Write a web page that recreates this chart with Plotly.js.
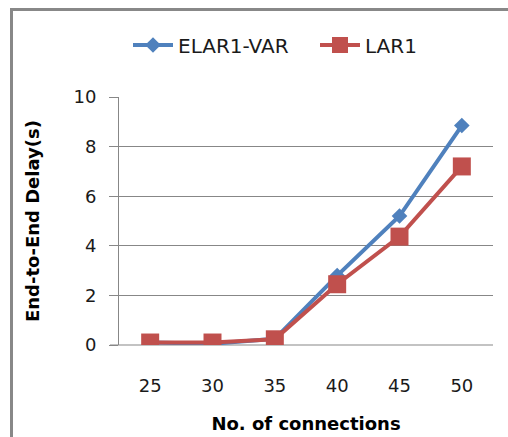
<!DOCTYPE html>
<html>
<head>
<meta charset="utf-8">
<script src="https://cdn.plot.ly/plotly-3.0.1.min.js"></script>
<style>
html,body{margin:0;padding:0;background:#fff;}
#chart{width:508px;height:437px;}
</style>
</head>
<body>
<div id="chart"></div>
<script>
const categories = ['25', '30', '35', '40', '45', '50'];
const elar1Var = [0.1, 0.05, 0.25, 2.8, 5.2, 8.85];
const lar1 = [0.1, 0.1, 0.23, 2.45, 4.37, 7.2];
const yTicks = [0, 2, 4, 6, 8, 10];

const W = 508, H = 437;
const L = 119, R = 15, T = 97, B = 92;
const pw = W - L - R, ph = H - T - B;
const px = v => (v - L) / pw;
const py = v => (H - B - v) / ph;

const traces = [
  {
    x: categories, y: elar1Var, name: 'ELAR1-VAR', type: 'scatter', mode: 'lines+markers',
    line: {color: '#4F81BD', width: 4},
    marker: {symbol: 'diamond', size: 12, color: '#4F81BD'},
    legend: 'legend'
  },
  {
    x: categories, y: lar1, name: 'LAR1', type: 'scatter', mode: 'lines+markers',
    line: {color: '#C0504D', width: 4},
    marker: {symbol: 'square', size: 18, color: '#C0504D'},
    legend: 'legend2'
  }
];

const legendBase = {
  orientation: 'h', xanchor: 'left', yanchor: 'middle', itemwidth: 40,
  font: {size: 20, color: '#1a1a1a'}, bgcolor: 'rgba(0,0,0,0)', itemclick: false
};

const layout = {
  width: W, height: H,
  margin: {l: L, r: R, t: T, b: B, pad: 0},
  paper_bgcolor: '#fff', plot_bgcolor: '#fff',
  font: {family: 'DejaVu Sans', color: '#1a1a1a'},
  showlegend: true,
  legend: Object.assign({}, legendBase, {x: px(128), y: py(45)}),
  legend2: Object.assign({}, legendBase, {x: px(315), y: py(45)}),
  xaxis: {
    type: 'category', range: [-0.5, 5.5],
    showgrid: false, zeroline: false, showline: false,
    ticks: '', tickfont: {size: 18}, ticklabelstandoff: 28,
    title: {text: 'No. of connections', font: {size: 18, weight: 'bold', color: '#000'}, standoff: 22}
  },
  yaxis: {
    range: [0, 10], tickvals: yTicks, ticktext: yTicks.map(String),
    showgrid: true, gridcolor: '#878787', gridwidth: 1,
    zeroline: false, showline: true, linecolor: '#878787', linewidth: 1,
    ticks: 'outside', ticklen: 9, tickcolor: '#878787', tickwidth: 1,
    tickfont: {size: 18}, ticklabelstandoff: 9,
    title: {text: 'End-to-End Delay(s)', font: {size: 18, weight: 'bold', color: '#000'}, standoff: 29}
  },
  shapes: [
    {type: 'line', xref: 'paper', yref: 'paper', x0: px(L - 9), x1: 1, y0: 0, y1: 0,
     line: {color: '#878787', width: 1}, layer: 'below'},
    {type: 'line', xref: 'paper', yref: 'paper', x0: px(11.5), x1: px(11.5), y0: py(8), y1: py(445),
     line: {color: '#888888', width: 3}},
    {type: 'line', xref: 'paper', yref: 'paper', x0: px(10), x1: px(515), y0: py(9.5), y1: py(9.5),
     line: {color: '#888888', width: 3}}
  ]
};

Plotly.newPlot('chart', traces, layout, {staticPlot: true, displayModeBar: false});
</script>
</body>
</html>
